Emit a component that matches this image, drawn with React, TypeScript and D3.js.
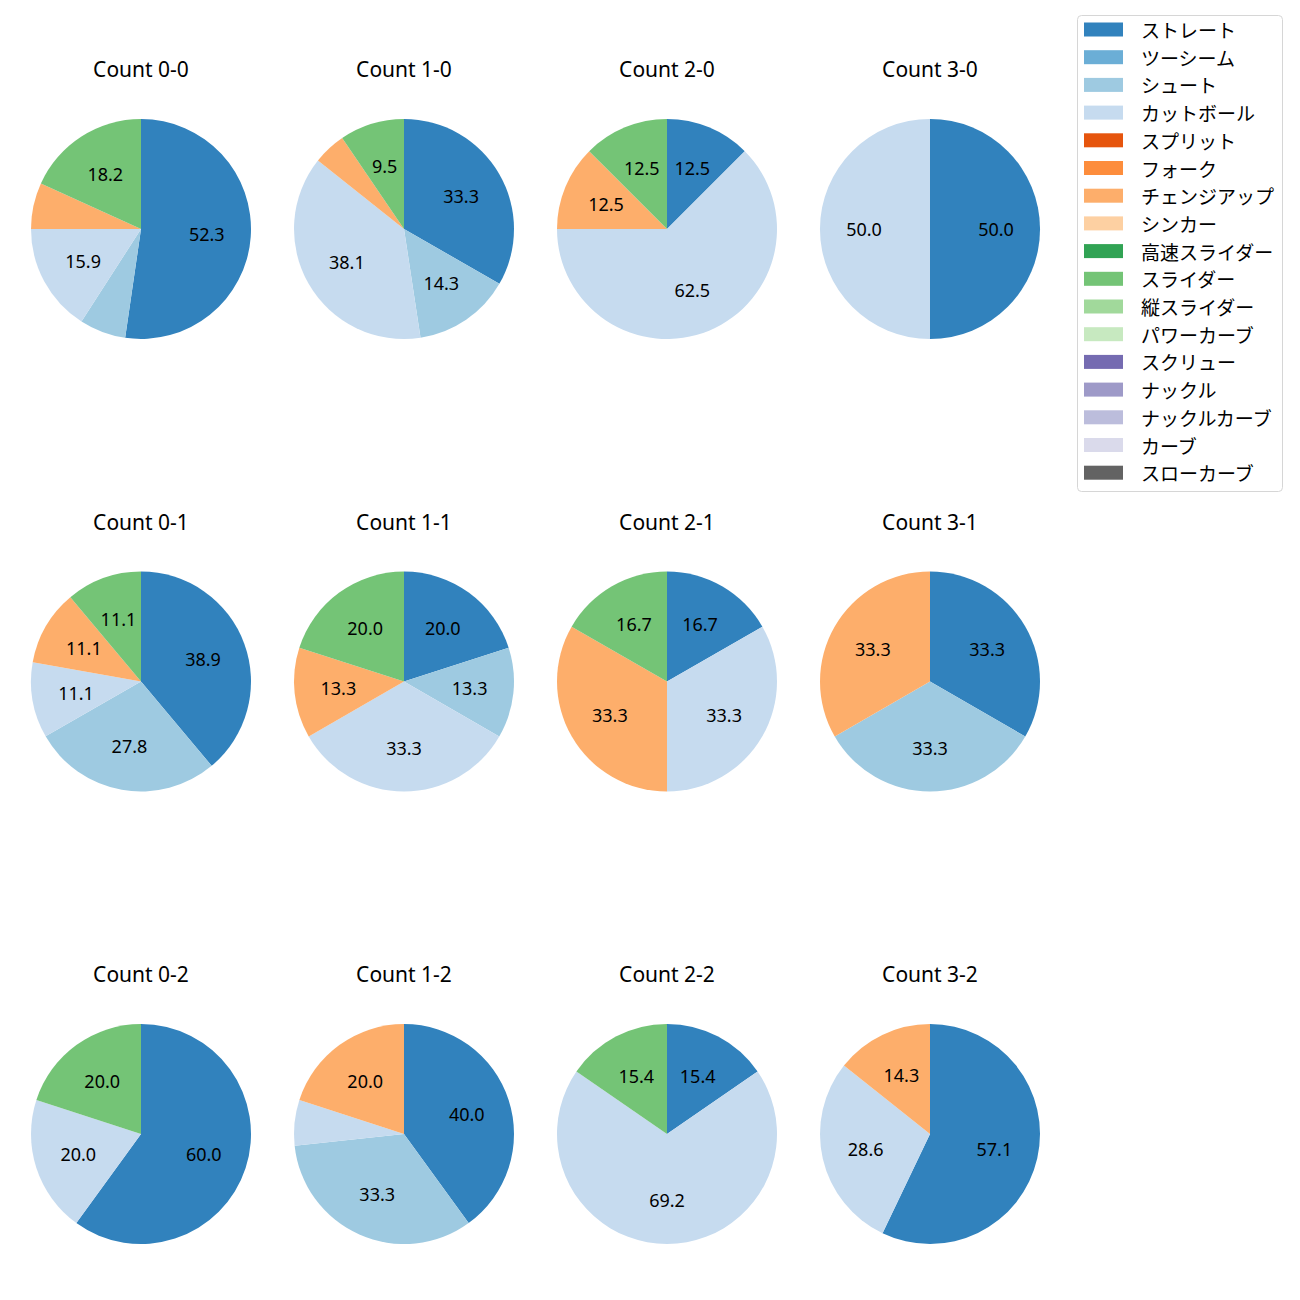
import React from "react";
import * as d3 from "d3";

const pitchTypes = [
  "ストレート", "ツーシーム", "シュート", "カットボール", "スプリット", "フォーク",
  "チェンジアップ", "シンカー", "高速スライダー", "スライダー", "縦スライダー",
  "パワーカーブ", "スクリュー", "ナックル", "ナックルカーブ", "カーブ", "スローカーブ",
];
const pitchColors = [
  "#3182bd", "#6baed6", "#9ecae1", "#c6dbef", "#e6550d", "#fd8d3c",
  "#fdae6b", "#fdd0a2", "#31a354", "#74c476", "#a1d99b",
  "#c7e9c0", "#756bb1", "#9e9ac8", "#bcbddc", "#dadaeb", "#636363",
];

const countTitles = [
  "Count 0-0", "Count 1-0", "Count 2-0", "Count 3-0",
  "Count 0-1", "Count 1-1", "Count 2-1", "Count 3-1",
  "Count 0-2", "Count 1-2", "Count 2-2", "Count 3-2",
];

// percentages per pitch type (order of pitchTypes)
const count00 = [52.3, 0, 6.8, 15.9, 0, 0, 6.8, 0, 0, 18.2, 0, 0, 0, 0, 0, 0, 0];
const count10 = [33.3, 0, 14.3, 38.1, 0, 0, 4.8, 0, 0, 9.5, 0, 0, 0, 0, 0, 0, 0];
const count20 = [12.5, 0, 0, 62.5, 0, 0, 12.5, 0, 0, 12.5, 0, 0, 0, 0, 0, 0, 0];
const count30 = [50.0, 0, 0, 50.0, 0, 0, 0, 0, 0, 0, 0, 0, 0, 0, 0, 0, 0];
const count01 = [38.9, 0, 27.8, 11.1, 0, 0, 11.1, 0, 0, 11.1, 0, 0, 0, 0, 0, 0, 0];
const count11 = [20.0, 0, 13.3, 33.3, 0, 0, 13.3, 0, 0, 20.0, 0, 0, 0, 0, 0, 0, 0];
const count21 = [16.7, 0, 0, 33.3, 0, 0, 33.3, 0, 0, 16.7, 0, 0, 0, 0, 0, 0, 0];
const count31 = [33.3, 0, 33.3, 0, 0, 0, 33.3, 0, 0, 0, 0, 0, 0, 0, 0, 0, 0];
const count02 = [60.0, 0, 0, 20.0, 0, 0, 0, 0, 0, 20.0, 0, 0, 0, 0, 0, 0, 0];
const count12 = [40.0, 0, 33.3, 6.7, 0, 0, 20.0, 0, 0, 0, 0, 0, 0, 0, 0, 0, 0];
const count22 = [15.4, 0, 0, 69.2, 0, 0, 0, 0, 0, 15.4, 0, 0, 0, 0, 0, 0, 0];
const count32 = [57.1, 0, 0, 28.6, 0, 0, 14.3, 0, 0, 0, 0, 0, 0, 0, 0, 0, 0];

const countValues = [
  count00, count10, count20, count30,
  count01, count11, count21, count31,
  count02, count12, count22, count32,
];

const LATIN_FONT = "'Noto Sans', 'Noto Sans CJK JP', sans-serif";
const CJK_FONT = "'Noto Sans CJK JP', 'Noto Sans', sans-serif";

const colX = d3.scaleLinear().domain([0, 3]).range([141, 930]);
const rowY = d3.scaleLinear().domain([0, 2]).range([229, 1134]);
const R = 110;
const LABEL_MIN = 8;

type Datum = { v: number; i: number };

function Pie({ idx }: { idx: number }) {
  const vals = countValues[idx];
  const total = d3.sum(vals);
  const data: Datum[] = vals.map((v, i) => ({ v, i })).filter((d) => d.v > 0);
  const pie = d3.pie<Datum>().sort(null).value((d) => d.v).startAngle(0).endAngle(2 * Math.PI);
  const arcs = pie(data);
  const arc = d3.arc<d3.PieArcDatum<Datum>>().innerRadius(0).outerRadius(R);
  const labelArc = d3.arc<d3.PieArcDatum<Datum>>().innerRadius(R * 0.6).outerRadius(R * 0.6);
  const cx = colX(idx % 4);
  const cy = rowY(Math.floor(idx / 4));
  return (
    <g>
      <text x={cx} y={cy - 160} textAnchor="middle" dominantBaseline="central" fontFamily={LATIN_FONT} fontSize={21} fill="#000">
        {countTitles[idx]}
      </text>
      <g transform={`translate(${cx},${cy})`}>
        {arcs.map((a) => (
          <path key={a.data.i} d={arc(a) || ""} fill={pitchColors[a.data.i]} />
        ))}
        {arcs.map((a) => {
          const pct = (a.data.v / total) * 100;
          if (pct < LABEL_MIN) return null;
          const [x, y] = labelArc.centroid(a);
          return (
            <text key={"l" + a.data.i} x={x} y={y} textAnchor="middle" dominantBaseline="central" fontFamily={LATIN_FONT} fontSize={18} fill="#000">
              {pct.toFixed(1)}
            </text>
          );
        })}
      </g>
    </g>
  );
}

function Legend() {
  const ly = d3.scaleLinear().domain([0, pitchTypes.length - 1]).range([29.5, 472.7]);
  return (
    <g>
      <rect x={1077.5} y={15.5} width={205} height={476} rx={4} ry={4} fill="#fff" fillOpacity={0.8} stroke="#d6d6d6" strokeWidth={1} />
      {pitchTypes.map((p, i) => (
        <g key={p}>
          <rect x={1084} y={ly(i) - 7} width={39} height={14} fill={pitchColors[i]} />
          <text x={1141} y={ly(i)} dominantBaseline="central" fontFamily={CJK_FONT} fontSize={19} fill="#000">
            {p}
          </text>
        </g>
      ))}
    </g>
  );
}

export default function App() {
  return (
    <svg width={1300} height={1300} style={{ position: "absolute", left: 0, top: 0, background: "#fff" }}>
      <rect x={0} y={0} width={1300} height={1300} fill="#fff" />
      {countTitles.map((_, i) => (
        <Pie key={i} idx={i} />
      ))}
      <Legend />
    </svg>
  );
}
